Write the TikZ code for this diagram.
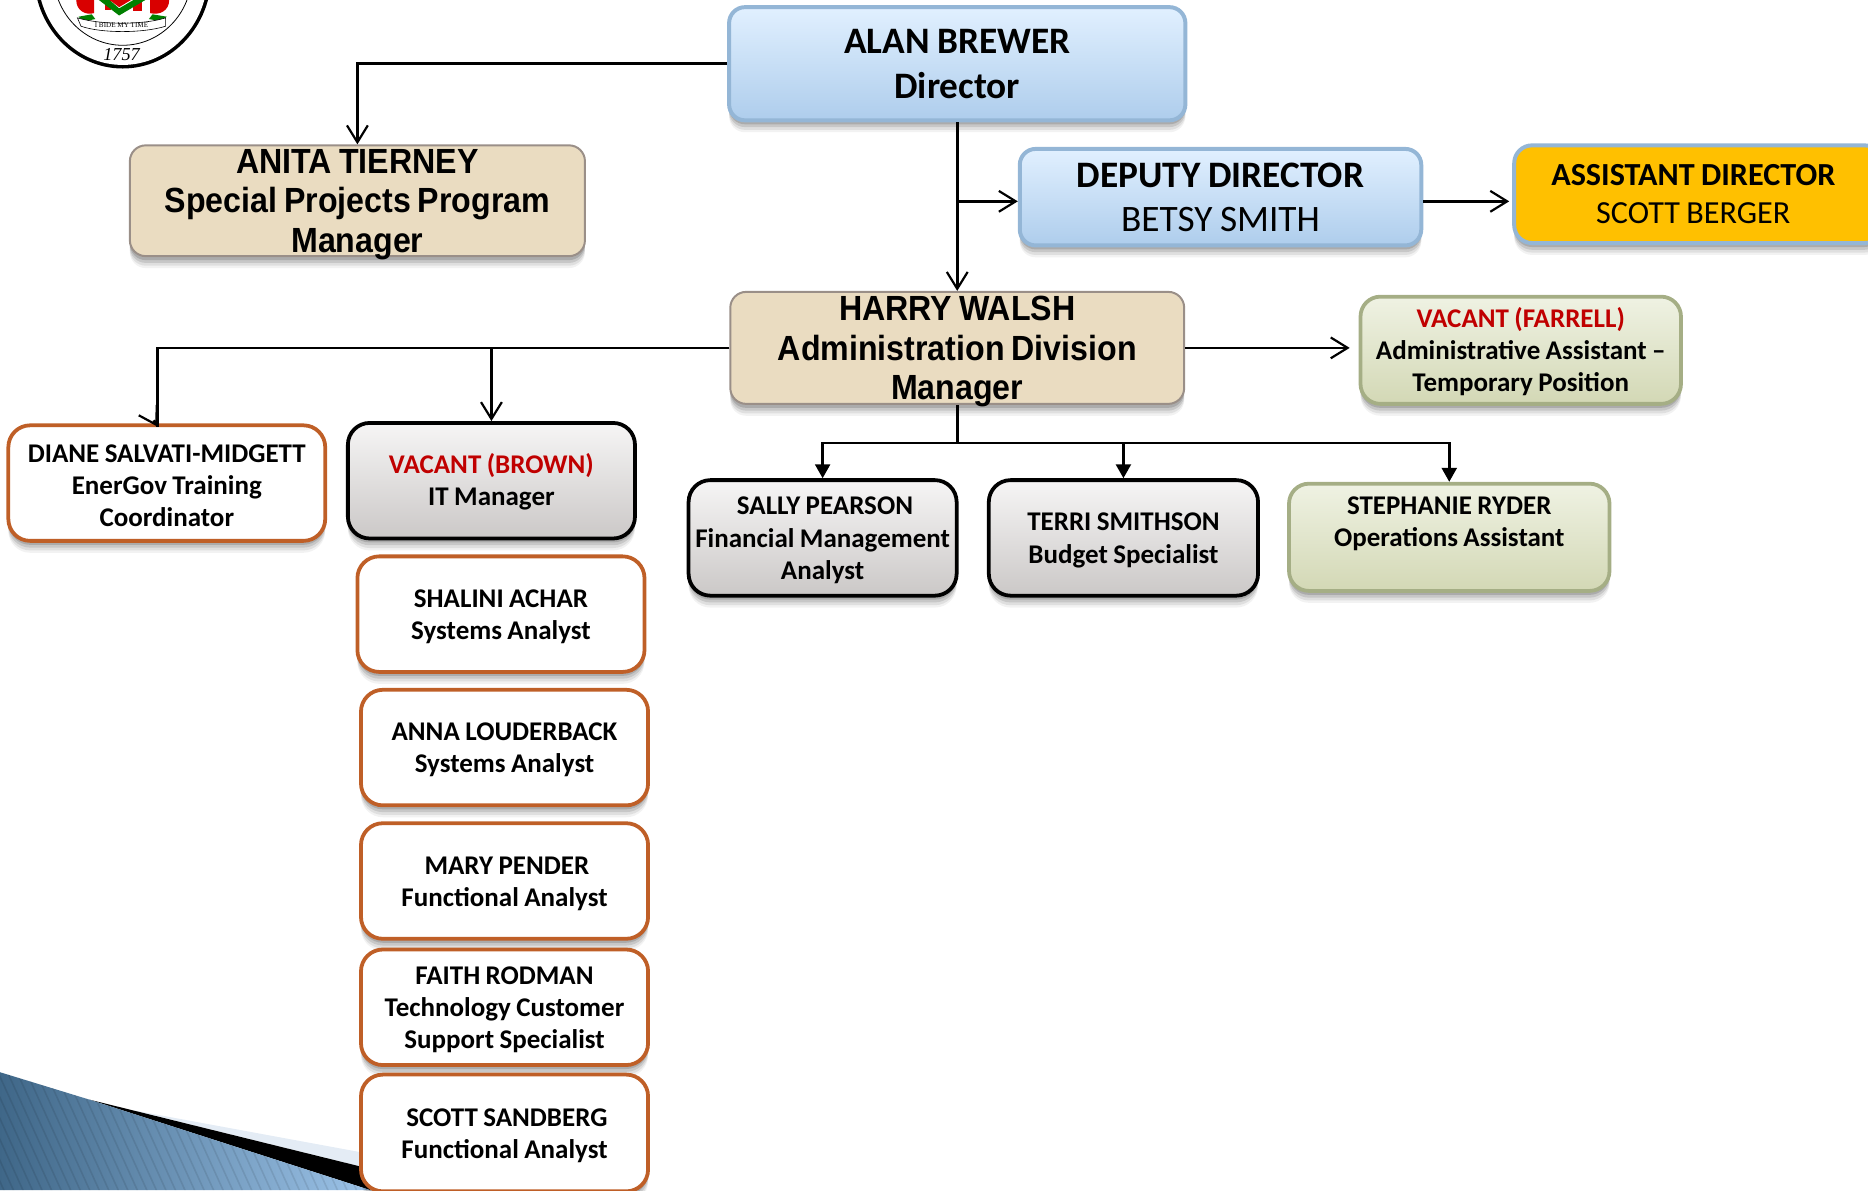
\documentclass[tikz,border=0pt]{standalone}
\usepackage{fontspec}
\setmainfont{Carlito}
\newfontfamily\arialn[FakeStretch=0.92]{Liberation Sans}
\newfontfamily\sealfont{Liberation Serif}
\usetikzlibrary{arrows.meta,calc}
\definecolor{bluetop}{HTML}{E1F0FF}
\definecolor{bluebot}{HTML}{AECDEC}
\definecolor{blueline}{HTML}{94B6D6}
\definecolor{tan}{HTML}{EADCC1}
\definecolor{tanline}{HTML}{9A8F88}
\definecolor{gold}{HTML}{FFC000}
\definecolor{rust}{HTML}{BF5F27}
\definecolor{greentop}{HTML}{EFF2E3}
\definecolor{greenbot}{HTML}{D3D8B5}
\definecolor{greenline}{HTML}{A5AE85}
\definecolor{greytop}{HTML}{F6F5F5}
\definecolor{greybot}{HTML}{CBC8C7}
\definecolor{vacred}{HTML}{C00000}
\definecolor{wedgeL}{HTML}{3F6788}
\definecolor{wedgeR}{HTML}{9CC3E8}
\definecolor{wedgeband}{HTML}{E4ECF5}
\newcommand{\boxdrop}{0pt}
\tikzset{
 x=0.6pt,y=-0.6pt,
 drop/.code={\renewcommand{\boxdrop}{#1}},
 softshadow/.style={
  preaction={draw=none,fill=black,fill opacity=.05,transform canvas={yshift=-6pt}},
  preaction={draw=none,fill=black,fill opacity=.08,transform canvas={yshift=-4.8pt}},
  preaction={draw=none,fill=black,fill opacity=.11,transform canvas={yshift=-3.4pt}},
  preaction={draw=none,fill=black,fill opacity=.14,transform canvas={yshift=-2pt}}},
 orgbox/.style={rectangle,rounded corners=9pt,inner sep=0pt,align=center,softshadow,
  execute at begin node={\spaceskip=0.2em\relax}},
 bluebox/.style={orgbox,rounded corners=8pt,draw=blueline,line width=2pt,top color=bluetop,bottom color=bluebot},
 tanbox/.style={orgbox,rounded corners=8pt,draw=tanline,line width=1pt,fill=tan,font=\arialn\bfseries\fontsize{17.6}{19.8}\selectfont},
 goldbox/.style={orgbox,draw=blueline,line width=2pt,fill=gold},
 rustbox/.style={orgbox,rounded corners=11pt,draw=rust,line width=1.9pt,fill=white,drop=11.4pt,font=\fontsize{13.6}{16.2}\selectfont\bfseries},
 greybox/.style={orgbox,rounded corners=11pt,draw=black,line width=1.9pt,top color=greytop,bottom color=greybot,drop=11.4pt,font=\fontsize{13.6}{16.2}\selectfont\bfseries},
 greenbox/.style={orgbox,rounded corners=10pt,draw=greenline,line width=1.9pt,top color=greentop,bottom color=greenbot,drop=9.6pt,font=\fontsize{13.6}{16.2}\selectfont\bfseries},
 conn/.style={draw=black,line width=1.3pt},
 openarr/.style={conn,-{Straight Barb[length=8.5pt,width=10.5pt,line width=1.1pt]}},
 smallarr/.style={conn,-{Triangle[length=7pt,width=7.5pt]}},
}
\newcommand{\orgnode}[7]{% name, x1,y1,x2,y2, style, text
 \node[#6,minimum width={(#4-#2)*0.6pt},minimum height={(#5-#3)*0.6pt},text width={(#4-#2)*0.6pt-2pt}] (#1) at ({(#2+#4)/2},{(#3+#5)/2}) {\rule{0pt}{\boxdrop}#7};}
\begin{document}
\begin{tikzpicture}
\useasboundingbox (0,0) rectangle (1568,999);
\begin{scope}
\clip (0,0) rectangle (1568,999);
% seal
\fill[black] (103,-22) ellipse [x radius=74.5,y radius=79.5];
\fill[white] (103,-22) ellipse [x radius=71.5,y radius=76.5];
\draw[black,line width=.4pt] (103,-22) ellipse [x radius=58,y radius=60];
\fill[red!85!black] (64,0) .. controls (64,9) and (72,13) .. (79,11) -- (79,0) -- cycle;
\fill[red!85!black] (142,0) .. controls (142,9) and (134,13) .. (126,11) -- (126,0) -- cycle;
\fill[red!85!black] (88,0) -- (88,8) -- (93,8) -- (93,0) -- cycle;
\fill[red!85!black] (112,0) -- (112,9) -- (119,9) -- (119,0) -- cycle;
\fill[green!50!black] (83,0) -- (100,13) -- (122,0) -- (112,0) -- (100,7) -- (92,0) -- cycle;
\fill[red!85!black] (92,0) -- (100,6) -- (110,0) -- cycle;
\fill[green!50!black] (66,14) -- (77,12) -- (80,16) -- (70,18) -- cycle;
\fill[green!50!black] (140,14) -- (128,12) -- (125,16) -- (136,18) -- cycle;
\draw[black,line width=.3pt,fill=white] (65,15) .. controls (85,21) and (120,21) .. (139,15) -- (139,22) .. controls (120,28) and (85,28) .. (68,22) -- cycle;
\node[font=\sealfont\fontsize{3.6}{4}\selectfont,inner sep=0pt] (motto) at (102,21.5) {I BIDE MY TIME};
\node[font=\sealfont\itshape\fontsize{9.2}{10}\selectfont,inner sep=0pt] (year) at (102,46) {1757};
% corner wedge
\fill[wedgeband] (112,932) -- (302,967) -- (302,979) -- cycle;
\fill[black] (75,923) -- (302,979) -- (311,999) -- cycle;
\begin{scope}
\clip (0,900) -- (75,923) -- (311,999) -- (0,999) -- cycle;
\shade[left color=wedgeL,right color=wedgeR] (0,900) rectangle (311,999);
\foreach \sx in {-60,-52,...,300}
  \draw[black,opacity=.09,line width=.8pt] (\sx,895) -- (\sx+50,1005);
\end{scope}
\end{scope}
% boxes
\orgnode{alan}{612}{6}{995}{101}{bluebox,font=\fontsize{18.8}{22.6}\selectfont\bfseries}{ALAN BREWER\\Director}
\orgnode{anita}{109}{122}{491}{215}{tanbox}{ANITA TIERNEY\\Special Projects Program\\\smash{Manager}}
\orgnode{betsy}{856}{125}{1193}{206}{bluebox,font=\fontsize{18.8}{22.2}\selectfont}{\textbf{DEPUTY DIRECTOR}\\BETSY SMITH}
\orgnode{asst}{1271}{122}{1580}{204}{goldbox,font=\fontsize{16.2}{19.2}\selectfont}{\hspace*{-5pt}\textbf{ASSISTANT DIRECTOR}\\\hspace*{-5pt}SCOTT BERGER}
\orgnode{harry}{613}{245}{994}{339}{tanbox}{HARRY WALSH\\Administration Division\\\smash{Manager}}
\orgnode{farrell}{1142}{249}{1411}{339}{greenbox,drop=11.4pt}{\textcolor{vacred}{VACANT (FARRELL)}\\Administrative Assistant --\\Temporary Position}
\orgnode{diane}{7}{357}{273}{454}{rustbox}{DIANE SALVATI-MIDGETT\\EnerGov Training\\Coordinator}
\orgnode{brown}{292}{355}{533}{452}{greybox}{\textcolor{vacred}{VACANT (BROWN)}\\IT Manager}
\orgnode{shalini}{300}{467}{541}{564}{rustbox}{SHALINI ACHAR\\Systems Analyst}
\orgnode{anna}{303}{579}{544}{676}{rustbox}{ANNA LOUDERBACK\\Systems Analyst}
\orgnode{mary}{303}{691}{544}{788}{rustbox}{\hspace*{2.4pt}MARY PENDER\\Functional Analyst}
\orgnode{faith}{303}{797}{544}{894}{rustbox}{FAITH RODMAN\\Technology Customer\\Support Specialist}
\orgnode{scott}{303}{902}{544}{1000}{rustbox}{\hspace*{2.4pt}SCOTT SANDBERG\\Functional Analyst}
\orgnode{sally}{578}{403}{803}{500}{greybox}{\hspace*{2.4pt}SALLY PEARSON\\Financial Management\\Analyst}
\orgnode{terri}{830}{403}{1056}{500}{greybox}{TERRI SMITHSON\\Budget Specialist}
\orgnode{steph}{1082}{406}{1351}{496}{greenbox}{STEPHANIE RYDER\\Operations Assistant\\\mbox{}}
% connectors
\coordinate (j1) at ($(alan.south |- betsy.west)+(0,3.5)$);
\coordinate (j2) at (harry.south |- 0,372);
\coordinate (b2) at ($(betsy.east)+(0,3.5)$);
\coordinate (dianetop) at (132,358);
\draw[openarr] (alan.west) -| (anita.north);
\draw[openarr] (alan.south) -- (harry.north);
\draw[openarr] (j1) -- (betsy.west |- j1);
\draw[openarr,shorten >=1.5pt] (b2) -- (asst.west |- b2);
\draw[openarr,shorten >=4.5pt] (harry.east) -- (farrell.west |- harry.east);
\draw[openarr] (harry.west) -| (brown.north);
\draw[conn] (harry.west) -| (dianetop);
\draw[openarr] ($(dianetop)+(-3,-5.2)$) -- (dianetop);
\draw[conn] (harry.south) -- (j2);
\draw[smallarr] (j2) -| (sally.north);
\draw[smallarr] (j2) -| (terri.north);
\draw[smallarr] (j2) -| (steph.north);
\end{tikzpicture}
\end{document}
